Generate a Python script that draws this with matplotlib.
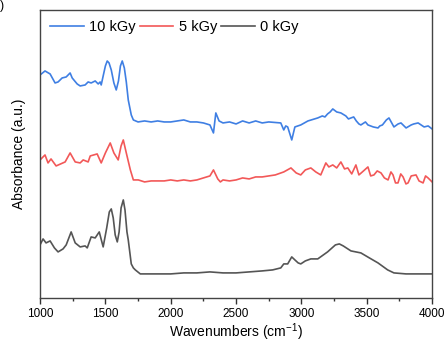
import matplotlib
matplotlib.use("Agg")
from matplotlib import pyplot as plt
from matplotlib.ticker import MultipleLocator

plt.rcParams['font.family'] = ['Liberation Sans', 'DejaVu Sans']
plt.rcParams['mathtext.default'] = 'regular'

# 10 kGy
wn_10 = [1000, 1038, 1077, 1115, 1138, 1169, 1200, 1230, 1246, 1284, 1307, 1345, 1368, 1391,
         1422, 1445, 1460, 1468, 1483, 1500, 1514, 1528, 1545, 1565, 1583, 1600, 1615, 1629,
         1645, 1660, 1675, 1698, 1714, 1750, 1800, 1850, 1900, 1950, 2000, 2050, 2100, 2150,
         2200, 2250, 2300, 2327, 2345, 2370, 2400, 2450, 2500, 2550, 2600, 2650, 2700, 2750,
         2842, 2865, 2880, 2895, 2926, 2950, 2995, 3050, 3100, 3125, 3160, 3180, 3200, 3220,
         3240, 3270, 3302, 3340, 3360, 3379, 3400, 3420, 3440, 3455, 3490, 3509, 3550, 3586,
         3600, 3620, 3650, 3670, 3708, 3740, 3762, 3801, 3840, 3860, 3893, 3939, 3970, 4000]
abs_10 = [2.23, 2.27, 2.24, 2.15, 2.16, 2.20, 2.21, 2.25, 2.20, 2.14, 2.12, 2.13, 2.16, 2.15,
          2.17, 2.14, 2.16, 2.13, 2.22, 2.32, 2.37, 2.35, 2.28, 2.15, 2.08, 2.17, 2.32, 2.37,
          2.30, 2.16, 1.98, 1.83, 1.78, 1.76, 1.77, 1.76, 1.77, 1.76, 1.76, 1.77, 1.78, 1.76,
          1.76, 1.75, 1.73, 1.65, 1.85, 1.77, 1.75, 1.76, 1.74, 1.77, 1.75, 1.77, 1.75, 1.76,
          1.75, 1.68, 1.72, 1.71, 1.58, 1.71, 1.73, 1.77, 1.79, 1.80, 1.82, 1.81, 1.84, 1.86,
          1.89, 1.86, 1.85, 1.82, 1.79, 1.80, 1.81, 1.77, 1.74, 1.73, 1.76, 1.73, 1.71, 1.70,
          1.72, 1.73, 1.78, 1.80, 1.71, 1.74, 1.75, 1.70, 1.73, 1.74, 1.75, 1.71, 1.72, 1.69]

# 5 kGy
wn_5 = [1000, 1038, 1061, 1084, 1123, 1192, 1230, 1269, 1307, 1330, 1368, 1384, 1437, 1468,
        1500, 1537, 1565, 1598, 1620, 1637, 1660, 1691, 1714, 1752, 1800, 1850, 1900, 1950,
        2000, 2050, 2100, 2150, 2200, 2250, 2300, 2327, 2360, 2380, 2400, 2450, 2500, 2550,
        2600, 2650, 2700, 2750, 2800, 2865, 2920, 2960, 2995, 3030, 3072, 3110, 3148, 3187,
        3210, 3240, 3270, 3302, 3330, 3355, 3385, 3417, 3440, 3475, 3509, 3530, 3555, 3580,
        3609, 3635, 3663, 3685, 3701, 3720, 3739, 3760, 3778, 3800, 3816, 3840, 3877, 3900,
        3931, 3950, 3969, 4000]
abs_5 = [1.38, 1.43, 1.35, 1.39, 1.32, 1.36, 1.45, 1.36, 1.35, 1.38, 1.36, 1.42, 1.44, 1.35,
         1.45, 1.55, 1.45, 1.38, 1.52, 1.58, 1.45, 1.28, 1.18, 1.18, 1.16, 1.17, 1.17, 1.17,
         1.18, 1.17, 1.18, 1.17, 1.18, 1.20, 1.22, 1.28, 1.19, 1.16, 1.18, 1.17, 1.18, 1.20,
         1.19, 1.21, 1.21, 1.22, 1.23, 1.26, 1.30, 1.25, 1.23, 1.28, 1.30, 1.26, 1.23, 1.35,
         1.31, 1.33, 1.30, 1.36, 1.29, 1.30, 1.24, 1.33, 1.23, 1.27, 1.31, 1.22, 1.23, 1.27,
         1.25, 1.20, 1.18, 1.26, 1.23, 1.15, 1.15, 1.24, 1.21, 1.14, 1.15, 1.22, 1.23, 1.17,
         1.15, 1.22, 1.20, 1.16]

# 0 kGy
wn_0 = [1000, 1023, 1046, 1077, 1110, 1138, 1176, 1200, 1238, 1269, 1307, 1345, 1361, 1391,
        1422, 1453, 1483, 1510, 1530, 1545, 1560, 1575, 1591, 1605, 1620, 1637, 1650, 1665,
        1675, 1698, 1714, 1729, 1767, 1800, 1900, 2000, 2100, 2200, 2300, 2400, 2500, 2600,
        2700, 2780, 2842, 2865, 2895, 2926, 2950, 2975, 2995, 3030, 3072, 3125, 3200, 3260,
        3290, 3320, 3379, 3455, 3520, 3586, 3660, 3708, 3800, 3900, 4000]
abs_0 = [0.53, 0.59, 0.55, 0.57, 0.50, 0.46, 0.49, 0.53, 0.66, 0.55, 0.51, 0.52, 0.50, 0.61,
         0.60, 0.66, 0.51, 0.70, 0.86, 0.89, 0.80, 0.63, 0.56, 0.66, 0.90, 0.98, 0.88, 0.66,
         0.58, 0.34, 0.30, 0.28, 0.24, 0.24, 0.24, 0.24, 0.25, 0.25, 0.26, 0.25, 0.25, 0.26,
         0.27, 0.28, 0.30, 0.34, 0.34, 0.41, 0.38, 0.35, 0.34, 0.37, 0.39, 0.39, 0.46, 0.53,
         0.54, 0.52, 0.47, 0.45, 0.40, 0.35, 0.28, 0.25, 0.24, 0.24, 0.24]

fig = plt.figure(figsize=(4.45, 3.44), dpi=100)
ax = fig.add_axes([0.09, 0.134, 0.881, 0.837])

ax.plot(wn_10, abs_10, color='#3f7fe3', lw=1.2, label='10 kGy')
ax.plot(wn_5, abs_5, color='#f25858', lw=1.2, label='5 kGy')
ax.plot(wn_0, abs_0, color='#555555', lw=1.2, label='0 kGy')

ax.set_xlim(1000, 4000)
ax.set_ylim(0, 2.88)
ax.xaxis.set_major_locator(MultipleLocator(500))
ax.xaxis.set_minor_locator(MultipleLocator(250))
ax.tick_params(axis='x', which='major', direction='out', length=4, width=1,
               labelsize=8.5, colors='#333333', labelcolor='black')
ax.tick_params(axis='x', which='minor', direction='out', length=2, width=1, colors='#333333')
ax.set_yticks([])
for s in ax.spines.values():
    s.set_color('#444444')
    s.set_linewidth(1.0)

ax.set_xlabel('Wavenumbers (cm$^{-1}$)', fontsize=10, labelpad=1)
ax.set_ylabel('Absorbance (a.u.)', fontsize=10, labelpad=10)

ax.legend(loc='upper left', ncol=3, frameon=False, fontsize=10.5, handlelength=2.3,
          handletextpad=0.35, columnspacing=0.3, borderaxespad=0.3,
          bbox_to_anchor=(0.0, 1.0))

fig.text(0.0, 1.0, ')', fontsize=9, va='top', ha='left')

fig.savefig('out.png', dpi=100)
